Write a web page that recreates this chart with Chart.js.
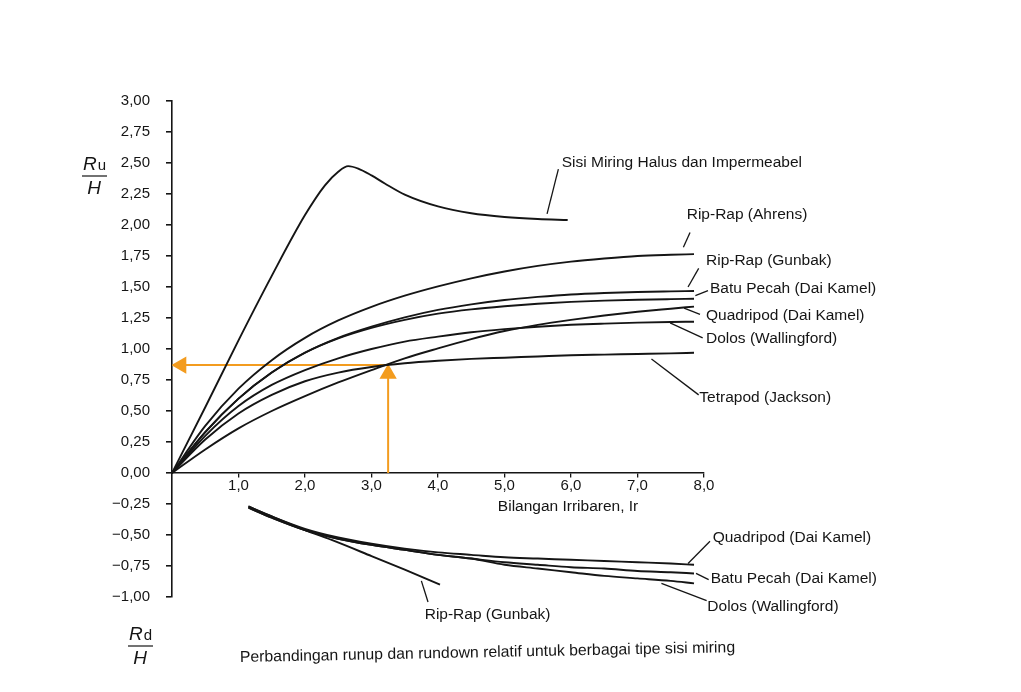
<!DOCTYPE html>
<html lang="id">
<head>
<meta charset="UTF-8">
<title>Runup dan rundown relatif</title>
<script src="https://cdn.jsdelivr.net/npm/chart.js"></script>
<style>
  html, body { margin: 0; padding: 0; background: #fff; }
  #wrap { width: 1021px; height: 692px; }
</style>
</head>
<body>
<div id="wrap"><canvas id="runupChart" width="1021" height="692"></canvas></div>
<script>
// --- data (Ir on x, Ru/H and Rd/H on y) ---
const xSisi = [0, 0.5, 1.0, 1.5, 2.0, 2.3, 2.5, 2.65, 2.8, 3.0, 3.2, 3.5, 4.0, 4.5, 5.0, 5.5, 5.95];
const ySisi = [0, 0.53, 1.07, 1.59, 2.08, 2.32, 2.43, 2.475, 2.455, 2.40, 2.335, 2.245, 2.15, 2.095, 2.065, 2.048, 2.04];

const xRun = [0, 0.5, 1, 1.5, 2, 2.5, 3, 3.5, 4, 4.5, 5, 5.5, 6, 6.5, 7, 7.5, 7.85];
const yAhrens = [0, 0.38, 0.68, 0.91, 1.09, 1.23, 1.34, 1.43, 1.505, 1.57, 1.625, 1.67, 1.705, 1.73, 1.75, 1.76, 1.765];
const yGunbak = [0, 0.33, 0.60, 0.81, 0.97, 1.09, 1.18, 1.255, 1.315, 1.36, 1.395, 1.42, 1.44, 1.452, 1.46, 1.465, 1.468];
const yBatuPecah = [0, 0.33, 0.60, 0.81, 0.97, 1.085, 1.17, 1.235, 1.285, 1.32, 1.345, 1.365, 1.38, 1.39, 1.397, 1.402, 1.405];
const yQuadripod = [0, 0.19, 0.36, 0.50, 0.62, 0.73, 0.83, 0.925, 1.005, 1.08, 1.145, 1.195, 1.235, 1.27, 1.30, 1.325, 1.342];
const yDolos = [0, 0.30, 0.54, 0.71, 0.83, 0.925, 1.00, 1.06, 1.10, 1.135, 1.16, 1.18, 1.195, 1.205, 1.213, 1.218, 1.22];
const yTetrapod = [0, 0.27, 0.48, 0.63, 0.74, 0.81, 0.855, 0.885, 0.905, 0.92, 0.93, 0.94, 0.95, 0.955, 0.96, 0.965, 0.97];

const xDown = [1.15, 1.5, 2, 2.5, 3, 3.5, 4, 4.5, 5, 5.5, 6, 6.5, 7, 7.5, 7.85];
const yQuadDown = [-0.27, -0.35, -0.45, -0.52, -0.57, -0.61, -0.64, -0.66, -0.68, -0.69, -0.70, -0.71, -0.72, -0.73, -0.74];
const yBatuDown = [-0.28, -0.36, -0.46, -0.53, -0.58, -0.62, -0.66, -0.69, -0.72, -0.74, -0.76, -0.77, -0.79, -0.80, -0.81];
const yDolosDown = [-0.28, -0.36, -0.46, -0.53, -0.58, -0.62, -0.66, -0.69, -0.74, -0.77, -0.80, -0.83, -0.85, -0.87, -0.89];
const xGunbakDown = [1.15, 1.5, 2, 2.4, 3, 3.5, 4.03];
const yGunbakDown = [-0.27, -0.35, -0.46, -0.54, -0.67, -0.78, -0.90];

// orange reading example: Ir = 3,25 -> Ru/H = 0,87
const guideIr = 3.25;
const guideRu = 0.87;

const yTicks = [-1, -0.75, -0.5, -0.25, 0, 0.25, 0.5, 0.75, 1, 1.25, 1.5, 1.75, 2, 2.25, 2.5, 2.75, 3];
const xTicks = [1, 2, 3, 4, 5, 6, 7, 8];

// curve labels with leader lines (data units)
const notes = [
  { text: 'Sisi Miring Halus dan Impermeabel', at: [5.86, 2.50], lead: [[5.81, 2.45], [5.64, 2.09]] },
  { text: 'Rip-Rap (Ahrens)', at: [7.74, 2.08], lead: [[7.79, 1.94], [7.69, 1.82]] },
  { text: 'Rip-Rap (Gunbak)', at: [8.03, 1.71], lead: [[7.92, 1.65], [7.76, 1.50]] },
  { text: 'Batu Pecah (Dai Kamel)', at: [8.09, 1.49], lead: [[8.06, 1.47], [7.87, 1.43]] },
  { text: 'Quadripod (Dai Kamel)', at: [8.03, 1.27], lead: [[7.94, 1.28], [7.70, 1.33]] },
  { text: 'Dolos (Wallingford)', at: [8.03, 1.08], lead: [[7.98, 1.09], [7.49, 1.21]] },
  { text: 'Tetrapod (Jackson)', at: [7.93, 0.61], lead: [[7.92, 0.63], [7.21, 0.92]] },
  { text: 'Quadripod (Dai Kamel)', at: [8.13, -0.52], lead: [[8.09, -0.55], [7.76, -0.73]] },
  { text: 'Batu Pecah (Dai Kamel)', at: [8.10, -0.85], lead: [[8.07, -0.86], [7.88, -0.81]] },
  { text: 'Dolos (Wallingford)', at: [8.05, -1.08], lead: [[8.04, -1.03], [7.36, -0.89]] },
  { text: 'Rip-Rap (Gunbak)', at: [3.80, -1.14], lead: [[3.85, -1.04], [3.75, -0.87]] }
];

const FONT = "'Liberation Sans', Arial, sans-serif";
const INK = '#151515';
const ORANGE = '#f39c1f';

function pts(xs, ys) {
  return xs.map((x, i) => ({ x: x, y: ys[i] }));
}
function curve(xs, ys) {
  return {
    data: pts(xs, ys),
    borderColor: INK,
    borderWidth: 1.9,
    pointRadius: 0,
    cubicInterpolationMode: 'monotone',
    fill: false
  };
}
function comma(v, d) {
  return v.toFixed(d).replace('.', ',').replace('-', '\u2212');
}

const annotPlugin = {
  id: 'annot',
  afterDraw(chart) {
    const ctx = chart.ctx;
    const xs = chart.scales.x, ys = chart.scales.y;
    ctx.save();
    ctx.strokeStyle = INK;
    ctx.fillStyle = INK;
    ctx.lineWidth = 1.3;
    ctx.font = '15.5px ' + FONT;
    ctx.textBaseline = 'middle';
    ctx.textAlign = 'left';
    notes.forEach(n => {
      ctx.fillText(n.text, xs.getPixelForValue(n.at[0]), ys.getPixelForValue(n.at[1]));
      ctx.beginPath();
      ctx.moveTo(xs.getPixelForValue(n.lead[0][0]), ys.getPixelForValue(n.lead[0][1]));
      ctx.lineTo(xs.getPixelForValue(n.lead[1][0]), ys.getPixelForValue(n.lead[1][1]));
      ctx.stroke();
    });

    // x axis title
    ctx.fillText('Bilangan Irribaren, Ir', xs.getPixelForValue(4.9), ys.getPixelForValue(-0.275));

    // y axis fractions
    function frac(left, base, sub) {
      ctx.textBaseline = 'alphabetic';
      ctx.textAlign = 'left';
      ctx.font = 'italic 19px ' + FONT;
      ctx.fillText('R', left, base);
      const w = ctx.measureText('R').width;
      ctx.font = '15px ' + FONT;
      ctx.fillText(sub, left + w + 1, base);
      ctx.lineWidth = 1.2;
      ctx.beginPath();
      ctx.moveTo(left - 1, base + 6);
      ctx.lineTo(left + 24, base + 6);
      ctx.stroke();
      ctx.font = 'italic 19px ' + FONT;
      ctx.textAlign = 'center';
      ctx.fillText('H', left + 11, base + 24);
    }
    frac(83, 170, 'u');
    frac(129, 640, 'd');

    // caption
    ctx.save();
    ctx.translate(240, 662);
    ctx.rotate(-0.02);
    ctx.font = '15.8px ' + FONT;
    ctx.textAlign = 'left';
    ctx.textBaseline = 'alphabetic';
    ctx.fillText('Perbandingan runup dan rundown relatif untuk berbagai tipe sisi miring', 0, 0);
    ctx.restore();
    ctx.restore();
  }
};

new Chart(document.getElementById('runupChart'), {
  type: 'line',
  data: {
    datasets: [
      curve(xSisi, ySisi),
      curve(xRun, yAhrens),
      curve(xRun, yGunbak),
      curve(xRun, yBatuPecah),
      curve(xRun, yQuadripod),
      curve(xRun, yDolos),
      curve(xRun, yTetrapod),
      curve(xDown, yQuadDown),
      curve(xDown, yBatuDown),
      curve(xDown, yDolosDown),
      curve(xGunbakDown, yGunbakDown),
      {
        data: [{ x: guideIr, y: guideRu }, { x: 0.14, y: guideRu }],
        borderColor: ORANGE, backgroundColor: ORANGE, borderWidth: 2,
        pointRadius: [0, 8], pointStyle: 'triangle', rotation: [0, -90]
      },
      {
        data: [{ x: guideIr, y: 0 }, { x: guideIr, y: guideRu - 0.07 }],
        borderColor: ORANGE, backgroundColor: ORANGE, borderWidth: 2,
        pointRadius: [0, 8], pointStyle: 'triangle', rotation: [0, 0]
      }
    ]
  },
  options: {
    responsive: false,
    animation: false,
    layout: { padding: { left: 0, right: 317, top: 101, bottom: 95 } },
    plugins: { legend: { display: false }, tooltip: { enabled: false } },
    scales: {
      x: {
        type: 'linear',
        position: { y: 0 },
        min: 0, max: 8,
        afterFit: s => { s.height = 0; },
        afterBuildTicks: s => { s.ticks = xTicks.map(v => ({ value: v })); },
        ticks: {
          font: { family: FONT, size: 15 }, color: INK, padding: 0,
          callback: v => comma(v, 1)
        },
        grid: { drawOnChartArea: false, tickLength: 4, color: INK, lineWidth: 1.3 },
        border: { color: INK, width: 1.6 }
      },
      y: {
        min: -1, max: 3,
        afterFit: s => { s.width = 172; },
        afterBuildTicks: s => { s.ticks = yTicks.map(v => ({ value: v })); },
        ticks: {
          font: { family: FONT, size: 15 }, color: INK, padding: 16,
          callback: v => comma(v, 2)
        },
        grid: { drawOnChartArea: false, tickLength: 6, color: INK, lineWidth: 1.6 },
        border: { color: INK, width: 1.6 }
      }
    }
  },
  plugins: [annotPlugin]
});
</script>
</body>
</html>
